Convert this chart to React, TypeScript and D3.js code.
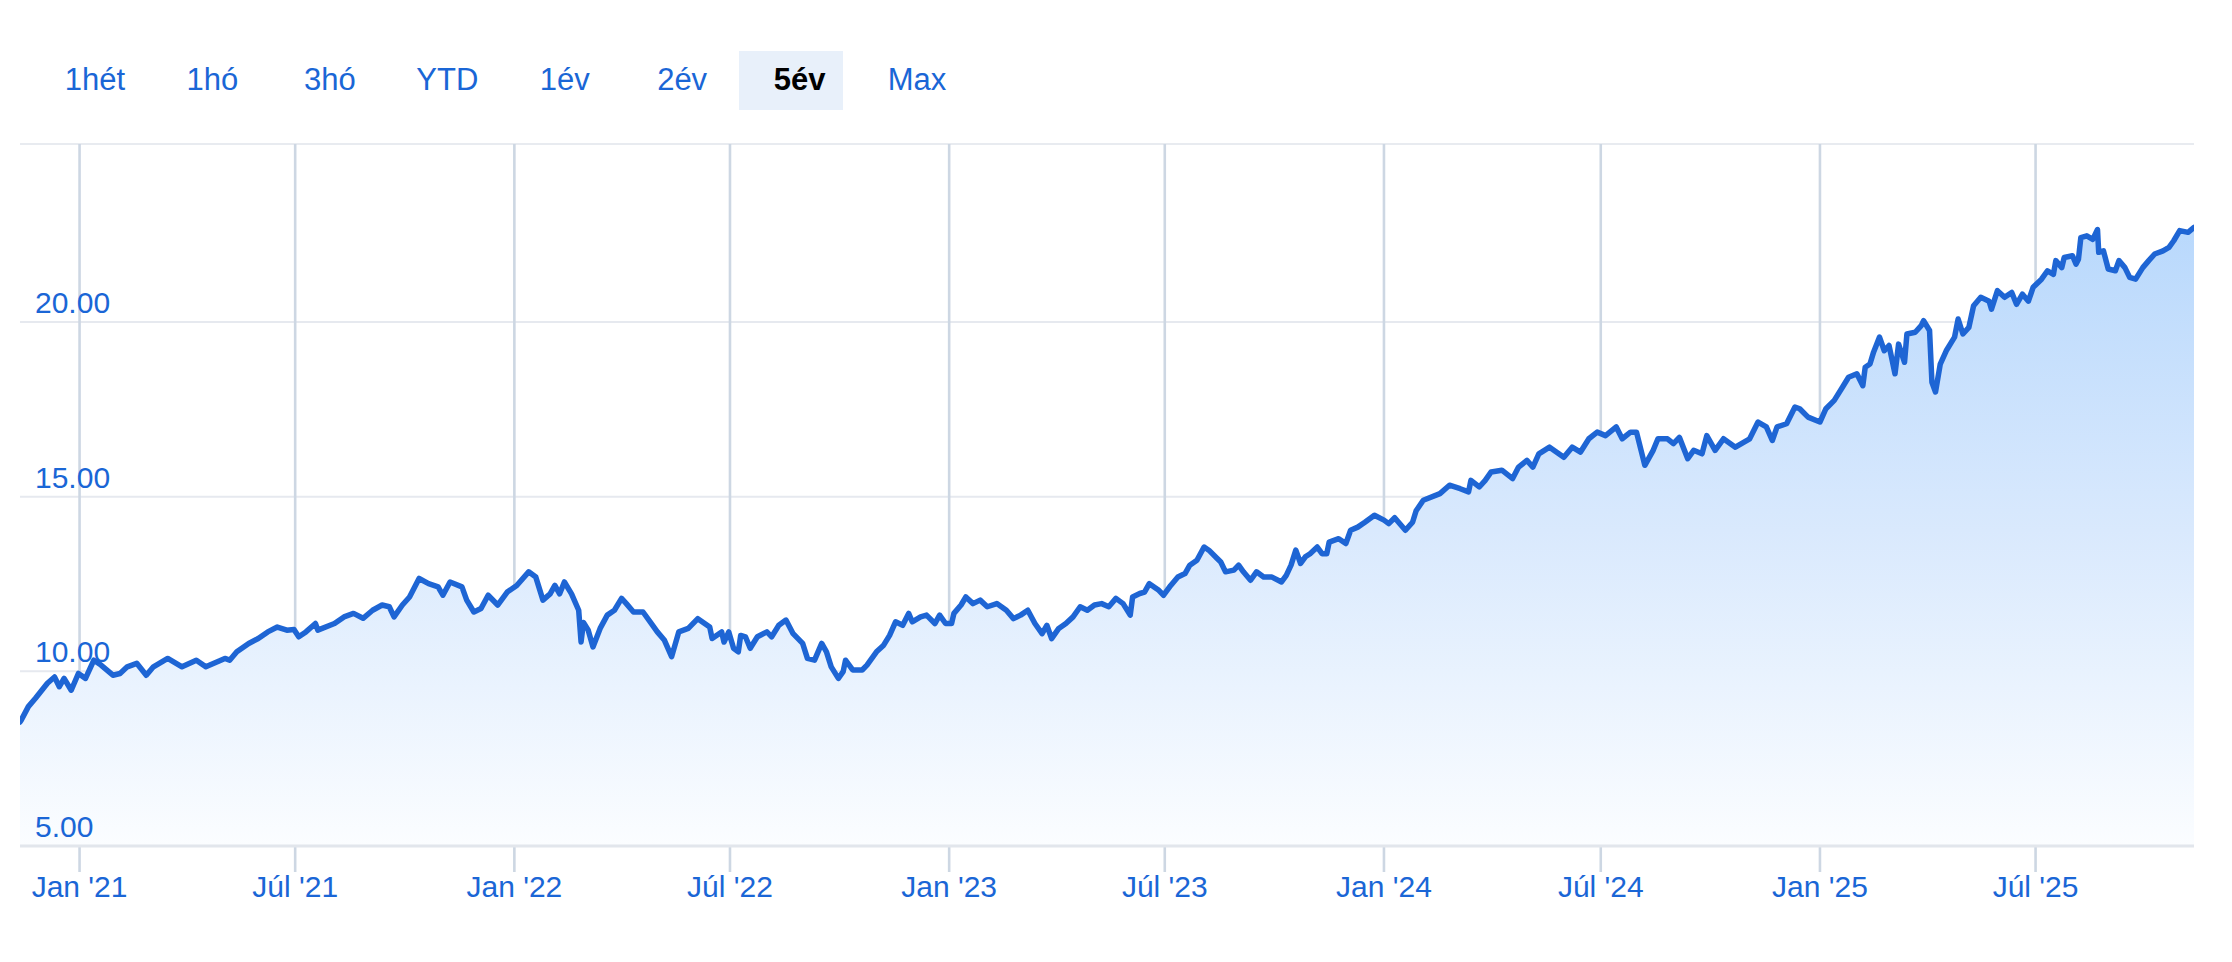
import React from 'react';
import * as d3 from 'd3';

// ---------- data ----------
const START_DATE = '2020-11-12';
const END_DAY = 1825;

const dayOffsets = [
  0, 1, 7, 13, 23, 29, 33, 37, 43, 49, 55, 62, 68, 78, 84, 90, 98, 106, 112, 124,
  136, 148, 156, 172, 176, 182, 192, 200, 208, 216, 224, 230, 234, 240, 248, 250, 264, 272, 280, 288,
  296, 304, 310, 314, 321, 327, 335, 343, 351, 355, 361, 371, 375, 381, 387, 393, 401, 409, 417, 427,
  433, 439, 445, 449, 453, 457, 463, 469, 471, 473, 477, 481, 487, 493, 499, 505, 509, 515, 523, 529,
  535, 541, 547, 553, 561, 569, 579, 581, 589, 591, 595, 599, 603, 605, 609, 613, 619, 627, 631, 637,
  643, 649, 657, 661, 667, 673, 677, 681, 687, 691, 693, 699, 707, 711, 719, 725, 730, 735, 741, 746,
  749, 756, 761, 768, 772, 777, 782, 784, 790, 794, 800, 806, 812, 820, 828, 834, 840, 846, 852, 858,
  862, 866, 872, 878, 884, 890, 896, 902, 908, 914, 920, 926, 932, 934, 940, 944, 948, 956, 960, 966,
  972, 978, 982, 988, 994, 998, 1005, 1008, 1012, 1019, 1023, 1027, 1033, 1038, 1044, 1051, 1059, 1063, 1067, 1071,
  1075, 1079, 1083, 1089, 1093, 1097, 1099, 1107, 1113, 1117, 1123, 1129, 1137, 1145, 1149, 1154, 1163, 1169, 1172, 1178,
  1192, 1200, 1209, 1216, 1218, 1225, 1230, 1235, 1244, 1253, 1258, 1265, 1270, 1275, 1284, 1296, 1303, 1310, 1317, 1324,
  1331, 1340, 1345, 1352, 1357, 1364, 1371, 1375, 1383, 1388, 1393, 1400, 1405, 1412, 1416, 1423, 1430, 1440, 1452, 1459,
  1466, 1471, 1475, 1483, 1490, 1494, 1501, 1511, 1516, 1523, 1530, 1535, 1542, 1547, 1549, 1553, 1556, 1561, 1565, 1569,
  1574, 1577, 1582, 1584, 1591, 1596, 1598, 1603, 1605, 1608, 1612, 1617, 1624, 1627, 1631, 1636, 1640, 1646, 1653, 1655,
  1660, 1666, 1672, 1676, 1681, 1686, 1690, 1697, 1702, 1707, 1709, 1714, 1716, 1723, 1726, 1728, 1730, 1735, 1740, 1744,
  1745, 1749, 1753, 1759, 1762, 1767, 1771, 1776, 1782, 1787, 1792, 1799, 1804, 1808, 1813, 1820, 1825,
];

const prices = [
  8.55, 8.6, 8.99, 9.23, 9.66, 9.84, 9.56, 9.8, 9.46, 9.94, 9.8, 10.32, 10.18, 9.89, 9.94, 10.13, 10.23, 9.89, 10.13, 10.37,
  10.13, 10.32, 10.13, 10.37, 10.32, 10.56, 10.8, 10.94, 11.13, 11.27, 11.18, 11.2, 10.99, 11.13, 11.37, 11.18, 11.37, 11.56, 11.66, 11.52,
  11.75, 11.9, 11.85, 11.56, 11.9, 12.13, 12.66, 12.51, 12.42, 12.18, 12.56, 12.42, 12.04, 11.7, 11.8, 12.18, 11.9, 12.27, 12.46, 12.85,
  12.7, 12.04, 12.22, 12.46, 12.22, 12.56, 12.22, 11.75, 10.84, 11.4, 11.18, 10.7, 11.23, 11.61, 11.75, 12.09, 11.94, 11.7, 11.7, 11.42,
  11.13, 10.89, 10.42, 11.13, 11.23, 11.51, 11.27, 10.94, 11.13, 10.84, 11.13, 10.66, 10.56, 11.03, 10.99, 10.66, 10.99, 11.13, 10.99, 11.32,
  11.47, 11.08, 10.8, 10.37, 10.32, 10.8, 10.56, 10.13, 9.8, 9.99, 10.32, 10.04, 10.04, 10.18, 10.56, 10.75, 11.03, 11.42, 11.32, 11.66,
  11.42, 11.56, 11.61, 11.37, 11.61, 11.37, 11.37, 11.66, 11.9, 12.13, 11.94, 12.04, 11.85, 11.94, 11.75, 11.51, 11.61, 11.75, 11.37, 11.08,
  11.32, 10.94, 11.23, 11.37, 11.56, 11.85, 11.75, 11.9, 11.94, 11.85, 12.09, 11.94, 11.61, 12.13, 12.23, 12.27, 12.51, 12.32, 12.18, 12.46,
  12.7, 12.8, 13.04, 13.18, 13.56, 13.47, 13.23, 13.13, 12.85, 12.9, 13.04, 12.85, 12.61, 12.85, 12.7, 12.7, 12.56, 12.75, 13.04, 13.47,
  13.09, 13.28, 13.37, 13.56, 13.37, 13.37, 13.7, 13.8, 13.66, 14.04, 14.13, 14.27, 14.47, 14.33, 14.23, 14.4, 14.04, 14.27, 14.6, 14.9,
  15.09, 15.33, 15.23, 15.14, 15.47, 15.28, 15.47, 15.71, 15.76, 15.52, 15.85, 16.04, 15.85, 16.23, 16.42, 16.13, 16.42, 16.28, 16.66, 16.85,
  16.75, 17.0, 16.66, 16.85, 16.85, 15.9, 16.33, 16.66, 16.66, 16.52, 16.7, 16.09, 16.33, 16.23, 16.75, 16.33, 16.66, 16.42, 16.66, 17.14,
  17.0, 16.61, 17.0, 17.09, 17.57, 17.52, 17.28, 17.14, 17.52, 17.76, 18.14, 18.42, 18.52, 18.18, 18.71, 18.8, 19.14, 19.57, 19.18, 19.33,
  18.52, 19.37, 18.85, 19.66, 19.71, 19.9, 20.04, 19.76, 18.28, 18.0, 18.8, 19.18, 19.57, 20.09, 19.66, 19.85, 20.47, 20.71, 20.6, 20.37,
  20.9, 20.71, 20.85, 20.51, 20.8, 20.6, 21.0, 21.23, 21.47, 21.37, 21.76, 21.56, 21.85, 21.9, 21.66, 21.8, 22.42, 22.47, 22.37, 22.65,
  22.0, 22.04, 21.52, 21.47, 21.76, 21.56, 21.28, 21.23, 21.56, 21.76, 21.95, 22.04, 22.14, 22.33, 22.62, 22.57, 22.71,
];

const rangeButtons = ['1hét', '1hó', '3hó', 'YTD', '1év', '2év', '5év', 'Max'];
const activeButton = '5év';

const xTickDates = [
  '2021-01-01', '2021-07-01', '2022-01-01', '2022-07-01', '2023-01-01',
  '2023-07-01', '2024-01-01', '2024-07-01', '2025-01-01', '2025-07-01',
];
const xTickLabels = [
  "Jan '21", "Júl '21", "Jan '22", "Júl '22", "Jan '23",
  "Júl '23", "Jan '24", "Júl '24", "Jan '25", "Júl '25",
];
const yTicks = [5, 10, 15, 20];
const yMin = 5;
const yMax = 25.1;

// ---------- layout ----------
const W = 2232;
const H = 962;
const PLOT = { left: 20, right: 2194, top: 144, bottom: 846 };
const FONT = '"Liberation Sans", Arial, Helvetica, sans-serif';
const BLUE = '#1a66d6';

const parseDate = d3.timeParse('%Y-%m-%d');

export default function App() {
  const start = parseDate(START_DATE) as Date;
  const end = d3.timeDay.offset(start, END_DAY);
  const x = d3.scaleTime().domain([start, end]).range([PLOT.left, PLOT.right]);
  const y = d3.scaleLinear().domain([yMin, yMax]).range([PLOT.bottom, PLOT.top]);

  const data = dayOffsets.map((d, i) => ({ date: d3.timeDay.offset(start, d), value: prices[i] }));

  const line = d3
    .line<{ date: Date; value: number }>()
    .x((d) => x(d.date))
    .y((d) => y(d.value))
    .curve(d3.curveLinear);
  const area = d3
    .area<{ date: Date; value: number }>()
    .x((d) => x(d.date))
    .y0(PLOT.bottom)
    .y1((d) => y(d.value))
    .curve(d3.curveLinear);

  const btnX = d3.scalePoint<string>().domain(rangeButtons).range([95, 917]);

  return (
    <svg
      width={W}
      height={H}
      style={{ position: 'absolute', left: 0, top: 0, background: '#fff' }}
      fontFamily={FONT}
    >
      <defs>
        <linearGradient id="areaGrad" gradientUnits="userSpaceOnUse" x1="0" y1={PLOT.top} x2="0" y2={PLOT.bottom}>
          <stop offset="0" stopColor="#b0d4fc" />
          <stop offset="0.55" stopColor="#d9e9fd" />
          <stop offset="1" stopColor="#fbfdff" />
        </linearGradient>
        <clipPath id="plotClip">
          <rect x={PLOT.left} y={PLOT.top - 10} width={PLOT.right - PLOT.left} height={PLOT.bottom - PLOT.top + 10} />
        </clipPath>
      </defs>

      {/* range buttons */}
      {rangeButtons.map((b) => {
        const cx = btnX(b) as number;
        const active = b === activeButton;
        return (
          <g key={b}>
            {active && <rect x={739} y={51} width={104} height={59} fill="#e8f0fa" />}
            <text
              x={cx}
              y={90}
              textAnchor="middle"
              fontSize={31}
              fontWeight={active ? 700 : 400}
              fill={active ? '#000' : BLUE}
            >
              {b}
            </text>
          </g>
        );
      })}

      {/* top border */}
      <line x1={PLOT.left} x2={PLOT.right} y1={PLOT.top} y2={PLOT.top} stroke="#e8ebf0" strokeWidth={2} />

      {/* horizontal gridlines */}
      {yTicks.slice(1).map((t) => (
        <line key={t} x1={PLOT.left} x2={PLOT.right} y1={y(t)} y2={y(t)} stroke="#e6e9ef" strokeWidth={2} />
      ))}

      {/* vertical gridlines + ticks */}
      {xTickDates.map((d) => {
        const xx = x(parseDate(d) as Date);
        return <line key={d} x1={xx} x2={xx} y1={PLOT.top} y2={872} stroke="#cdd7e3" strokeWidth={2.6} />;
      })}

      {/* area + line */}
      <g clipPath="url(#plotClip)">
        <path d={area(data) as string} fill="url(#areaGrad)" />
        <path d={line(data) as string} fill="none" stroke="#1e65d4" strokeWidth={5.5} strokeLinejoin="round" strokeLinecap="round" />
      </g>

      {/* bottom axis line */}
      <line x1={PLOT.left} x2={PLOT.right} y1={PLOT.bottom} y2={PLOT.bottom} stroke="#e2e6ec" strokeWidth={3} />

      {/* y labels */}
      {yTicks.map((t) => (
        <text key={t} x={35} y={y(t) - 9} fontSize={30} fill={BLUE}>
          {t.toFixed(2)}
        </text>
      ))}

      {/* x labels */}
      {xTickDates.map((d, i) => (
        <text key={d} x={x(parseDate(d) as Date)} y={897} textAnchor="middle" fontSize={30} fill={BLUE}>
          {xTickLabels[i]}
        </text>
      ))}
    </svg>
  );
}
